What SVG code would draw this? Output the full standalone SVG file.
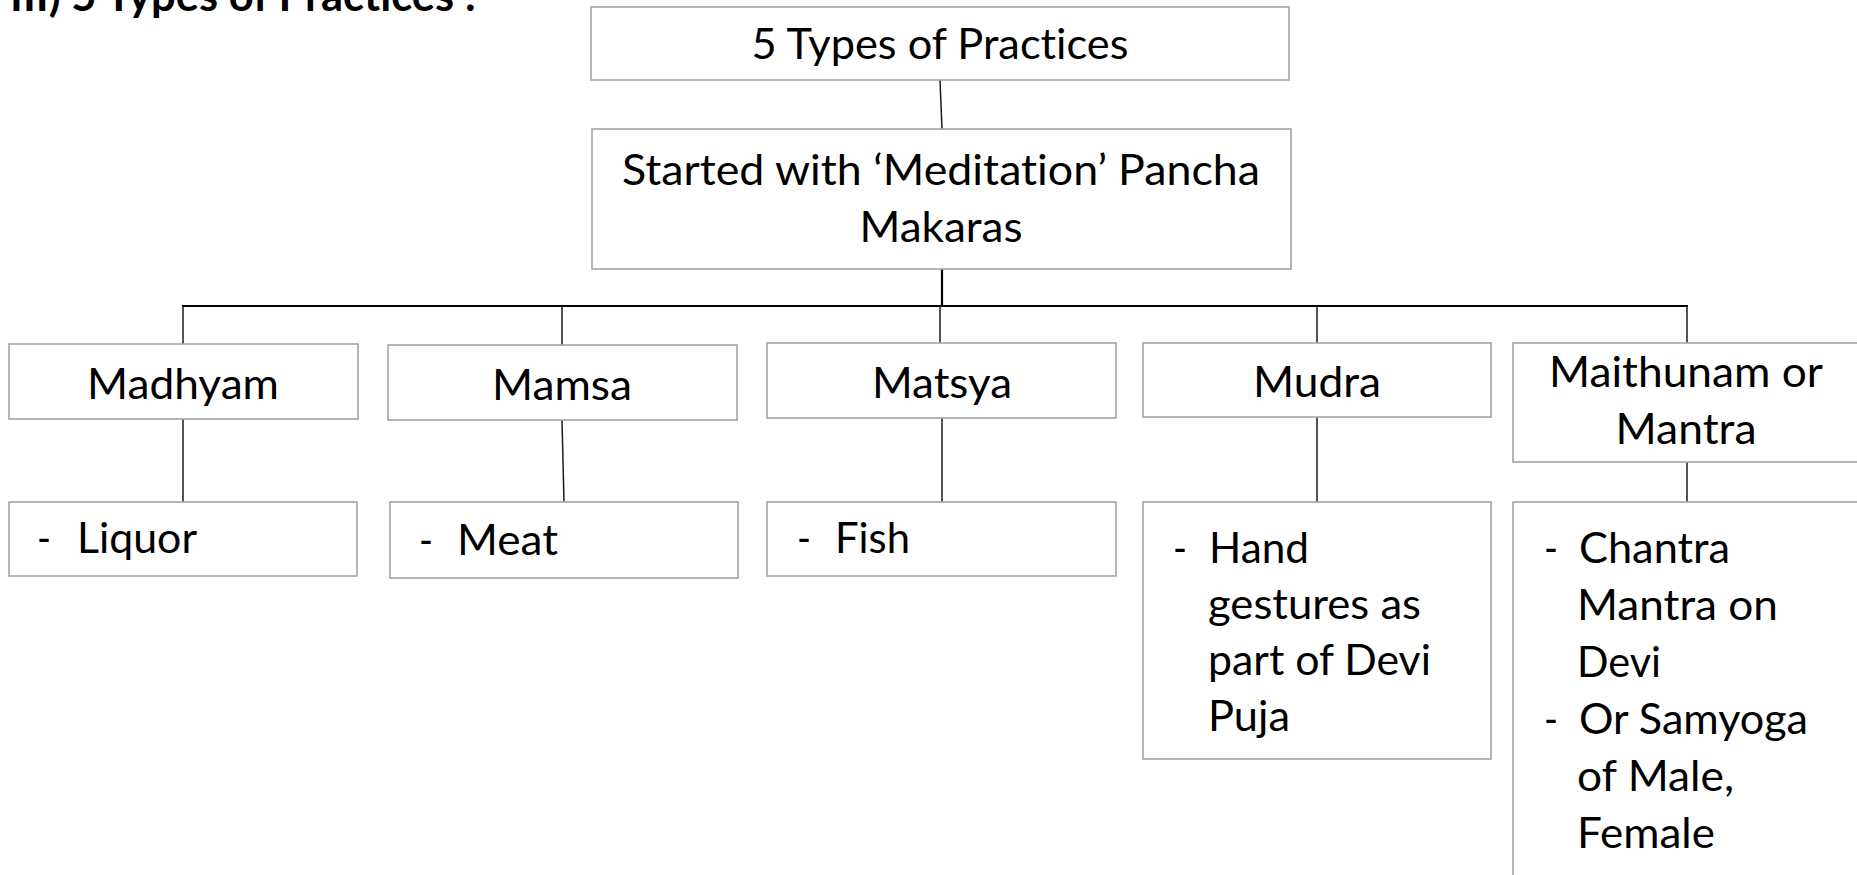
<svg xmlns="http://www.w3.org/2000/svg" width="1857" height="875" viewBox="0 0 1857 875">
<style>
  .box{fill:#ffffff;stroke:#a3a3a3;stroke-width:1.6}
  .t{font-family:Lato,"Open Sans","Liberation Sans",sans-serif;font-size:43px;fill:#000000;font-variant-ligatures:none}
  .c{text-anchor:middle}
  .title{font-family:Lato,"Open Sans","Liberation Sans",sans-serif;font-size:43px;font-weight:bold;fill:#000000;font-variant-ligatures:none}
  .ln{stroke:#1a1a1a;stroke-width:1.5;fill:none}
  .bus{stroke:#000000;stroke-width:2.2;fill:none}
</style>
<rect width="1857" height="875" fill="#ffffff"/>
<text class="title" x="10" y="11" textLength="466" lengthAdjust="spacingAndGlyphs">III) 5 Types of Practices :</text>

<g id="connectors">
  <line class="ln" x1="940" y1="80" x2="942" y2="129"/>
  <line class="bus" x1="942" y1="269" x2="942" y2="306"/>
  <line class="bus" x1="182" y1="306" x2="1688" y2="306"/>
  <line class="ln" x1="183" y1="306" x2="183" y2="344"/>
  <line class="ln" x1="562" y1="306" x2="562" y2="345"/>
  <line class="ln" x1="940" y1="306" x2="940" y2="343"/>
  <line class="ln" x1="1317" y1="306" x2="1317" y2="343"/>
  <line class="ln" x1="1687" y1="306" x2="1687" y2="343"/>
  <line class="ln" x1="183" y1="419" x2="183" y2="502"/>
  <line class="ln" x1="562" y1="420" x2="564" y2="502"/>
  <line class="ln" x1="942" y1="418" x2="942" y2="502"/>
  <line class="ln" x1="1317" y1="417" x2="1317" y2="502"/>
  <line class="ln" x1="1687" y1="462" x2="1687" y2="502"/>
</g>

<g id="n-top">
  <rect class="box" x="591" y="7" width="698" height="73"/>
  <text class="t c" x="940" y="59" textLength="377" lengthAdjust="spacingAndGlyphs">5 Types of Practices</text>
</g>
<g id="n-started">
  <rect class="box" x="592" y="129" width="699" height="140"/>
  <text class="t c" x="941" y="185" textLength="638" lengthAdjust="spacingAndGlyphs">Started with ‘Meditation’ Pancha</text>
  <text class="t c" x="941" y="242" textLength="163" lengthAdjust="spacingAndGlyphs">Makaras</text>
</g>

<g id="n-madhyam">
  <rect class="box" x="9" y="344" width="349" height="75"/>
  <text class="t c" x="183" y="399" textLength="192" lengthAdjust="spacingAndGlyphs">Madhyam</text>
</g>
<g id="n-mamsa">
  <rect class="box" x="388" y="345" width="349" height="75"/>
  <text class="t c" x="562" y="400" textLength="140" lengthAdjust="spacingAndGlyphs">Mamsa</text>
</g>
<g id="n-matsya">
  <rect class="box" x="767" y="343" width="349" height="75"/>
  <text class="t c" x="942" y="398" textLength="140" lengthAdjust="spacingAndGlyphs">Matsya</text>
</g>
<g id="n-mudra">
  <rect class="box" x="1143" y="343" width="348" height="74"/>
  <text class="t c" x="1317" y="397" textLength="128" lengthAdjust="spacingAndGlyphs">Mudra</text>
</g>
<g id="n-maithunam">
  <rect class="box" x="1513" y="343" width="360" height="119"/>
  <text class="t c" x="1686" y="387" textLength="274" lengthAdjust="spacingAndGlyphs">Maithunam or</text>
  <text class="t c" x="1686" y="444" textLength="141" lengthAdjust="spacingAndGlyphs">Mantra</text>
</g>

<g id="n-liquor">
  <rect class="box" x="9" y="502" width="348" height="74"/>
  <text class="t" x="37" y="553" textLength="14" lengthAdjust="spacingAndGlyphs">-</text>
  <text class="t" x="77" y="553" textLength="120" lengthAdjust="spacingAndGlyphs">Liquor</text>
</g>
<g id="n-meat">
  <rect class="box" x="390" y="502" width="348" height="76"/>
  <text class="t" x="419" y="555" textLength="14" lengthAdjust="spacingAndGlyphs">-</text>
  <text class="t" x="457" y="555" textLength="101" lengthAdjust="spacingAndGlyphs">Meat</text>
</g>
<g id="n-fish">
  <rect class="box" x="767" y="502" width="349" height="74"/>
  <text class="t" x="797" y="553" textLength="14" lengthAdjust="spacingAndGlyphs">-</text>
  <text class="t" x="835" y="553" textLength="75" lengthAdjust="spacingAndGlyphs">Fish</text>
</g>
<g id="n-hand">
  <rect class="box" x="1143" y="502" width="348" height="257"/>
  <text class="t" x="1173" y="563" textLength="14" lengthAdjust="spacingAndGlyphs">-</text>
  <text class="t" x="1209" y="563" textLength="100" lengthAdjust="spacingAndGlyphs">Hand</text>
  <text class="t" x="1208" y="619" textLength="213" lengthAdjust="spacingAndGlyphs">gestures as</text>
  <text class="t" x="1208" y="675" textLength="223" lengthAdjust="spacingAndGlyphs">part of Devi</text>
  <text class="t" x="1208" y="731" textLength="82" lengthAdjust="spacingAndGlyphs">Puja</text>
</g>
<g id="n-chantra">
  <rect class="box" x="1513" y="502" width="360" height="400"/>
  <text class="t" x="1544" y="563" textLength="14" lengthAdjust="spacingAndGlyphs">-</text>
  <text class="t" x="1579" y="563" textLength="151" lengthAdjust="spacingAndGlyphs">Chantra</text>
  <text class="t" x="1577" y="620" textLength="201" lengthAdjust="spacingAndGlyphs">Mantra on</text>
  <text class="t" x="1577" y="677" textLength="84" lengthAdjust="spacingAndGlyphs">Devi</text>
  <text class="t" x="1544" y="734" textLength="14" lengthAdjust="spacingAndGlyphs">-</text>
  <text class="t" x="1579" y="734" textLength="229" lengthAdjust="spacingAndGlyphs">Or Samyoga</text>
  <text class="t" x="1577" y="791" textLength="157" lengthAdjust="spacingAndGlyphs">of Male,</text>
  <text class="t" x="1577" y="848" textLength="138" lengthAdjust="spacingAndGlyphs">Female</text>
</g>
</svg>
